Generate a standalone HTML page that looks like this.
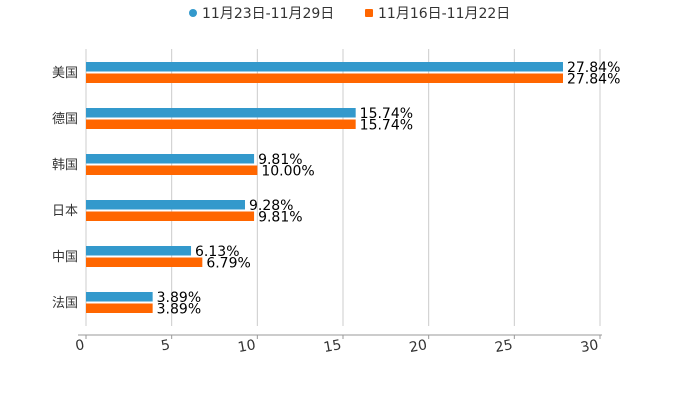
<!DOCTYPE html>
<html><head><meta charset="utf-8"><style>
html,body{margin:0;padding:0;background:#fff;width:700px;height:400px;overflow:hidden}
text{font-family:"DejaVu Sans","Noto Sans CJK SC",sans-serif}
</style></head><body>
<svg id="c" width="700" height="400" xmlns="http://www.w3.org/2000/svg">
<g>
<g><circle cx="193" cy="13" r="4" fill="#3399cc"/><text x="202" y="18" font-size="14" fill="#333">11月23日-11月29日</text></g>
<g><rect x="365" y="9" width="8" height="8" rx="1" fill="#ff6600"/><text x="378" y="18" font-size="14" fill="#333">11月16日-11月22日</text></g>
</g>
<g id="grid"></g>
<g id="bars"></g>
<g id="axes"></g>
</svg>
<script>
const categories=["美国","德国","韩国","日本","中国","法国"];
const seriesA=[27.84,15.74,9.81,9.28,6.13,3.89];
const seriesB=[27.84,15.74,10.00,9.81,6.79,3.89];
const ticks=[0,5,10,15,20,25,30];
const NS="http://www.w3.org/2000/svg";
const X0=86,X1=600,Y0=49,BAND=46,MAX=30;
const x=v=>X0+(v/MAX)*(X1-X0);
const yc=i=>Y0+BAND*i+BAND/2;
function mk(t,a,p){const e=document.createElementNS(NS,t);for(const k in a)e.setAttribute(k,a[k]);p.appendChild(e);return e;}
const grid=document.getElementById('grid'),bars=document.getElementById('bars'),axes=document.getElementById('axes');
ticks.forEach(t=>{
 const g=mk('line',{x1:x(t),x2:x(t),y1:Y0,y2:326,stroke:'#ccc','stroke-width':1},grid);
 
 
 const tk=mk('line',{x1:x(t),x2:x(t),y1:335,y2:339,stroke:'#999'},axes);
 
 
 const l=mk('text',{x:x(t)-1,y:349,'font-size':14,fill:'#333','text-anchor':'end',transform:`rotate(-10 ${x(t)-1} 349)`},axes);
 l.textContent=t;
 
 
});
const ax=mk('line',{x1:X0-8,x2:X1+2,y1:335,y2:335,stroke:'#999'},axes);


categories.forEach((c,i)=>{
 const cy=yc(i);
 const lb=mk('text',{x:78,y:cy+5,'font-size':13,fill:'#333','text-anchor':'end'},axes);
 lb.textContent=c;
 
 
 [[seriesA,'#3399cc',cy-10],[seriesB,'#ff6600',cy+1.5]].forEach(([s,col,y],k)=>{
  const r=mk('rect',{x:X0,y:y,width:x(s[i])-X0,height:9.5,fill:col},bars);
  
  
  const t=mk('text',{x:x(s[i])+4,y:y+10,'font-size':14,fill:'#000'},bars);
  t.textContent=s[i].toFixed(2)+'%';
  
  
 });
});
</script>
</body></html>
